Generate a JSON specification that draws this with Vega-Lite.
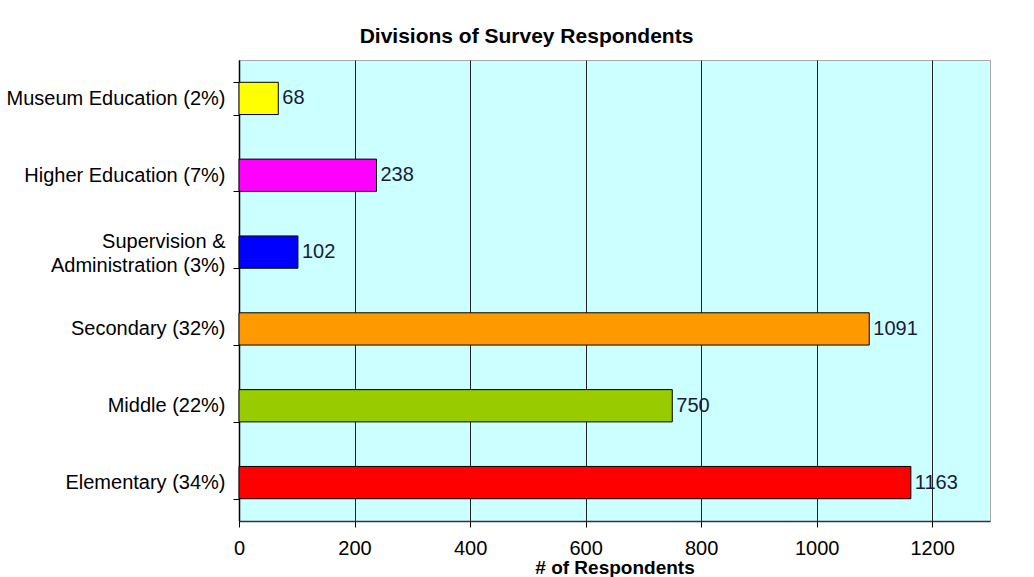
{
  "$schema": "https://vega.github.io/schema/vega-lite/v6.json",
  "autosize": {"type": "none"},
  "padding": {"left": 239, "top": 60, "right": 44, "bottom": 56},
  "width": 751,
  "height": 461,
  "background": "white",
  "title": {
    "text": "Divisions of Survey Respondents",
    "font": "Liberation Sans",
    "fontSize": 21,
    "fontWeight": "bold",
    "color": "black",
    "anchor": "middle",
    "frame": "group",
    "dx": -88,
    "offset": 3
  },
  "config": {
    "view": {"fill": "#CCFFFF", "stroke": "#a8a8a8", "strokeWidth": 1},
    "font": "Liberation Sans"
  },
  "data": {
    "values": [
      {"division": "Museum Education (2%)", "respondents": 68, "color": "#FFFF00"},
      {"division": "Higher Education (7%)", "respondents": 238, "color": "#FF00FF"},
      {"division": "Supervision & Administration (3%)", "respondents": 102, "color": "#0000FF"},
      {"division": "Secondary (32%)", "respondents": 1091, "color": "#FF9900"},
      {"division": "Middle (22%)", "respondents": 750, "color": "#99CC00"},
      {"division": "Elementary (34%)", "respondents": 1163, "color": "#FF0000"}
    ]
  },
  "encoding": {
    "y": {
      "field": "division",
      "type": "nominal",
      "sort": null,
      "scale": {"paddingInner": 0.58, "paddingOuter": 0.29},
      "axis": {
        "title": null,
        "domainColor": "black",
        "domainWidth": 1.5,
        "tickColor": "black",
        "tickSize": 6,
        "tickBand": "extent",
        "labelFont": "Liberation Sans",
        "labelFontSize": 20,
        "labelColor": "black",
        "labelPadding": 8,
        "labelLineHeight": 24,
        "labelLimit": 300,
        "labelOffset": {"condition": {"test": "datum.value == 'Supervision & Administration (3%)'", "value": -11}, "value": 0},
        "labelExpr": "datum.value == 'Supervision & Administration (3%)' ? ['Supervision &', 'Administration (3%)'] : datum.label"
      }
    },
    "x": {
      "field": "respondents",
      "type": "quantitative",
      "scale": {"domain": [0, 1300], "nice": false},
      "axis": {
        "title": "# of Respondents",
        "titleFont": "Liberation Sans",
        "titleFontSize": 19,
        "titleFontWeight": "bold",
        "titleColor": "black",
        "titlePadding": 0,
        "values": [0, 200, 400, 600, 800, 1000, 1200],
        "format": "d",
        "grid": true,
        "gridColor": "#222222",
        "gridWidth": 1,
        "gridOpacity": 1,
        "domainColor": "#333333",
        "domainWidth": 1.5,
        "tickColor": "black",
        "tickSize": 6,
        "labelFont": "Liberation Sans",
        "labelFontSize": 20,
        "labelColor": "black",
        "labelPadding": 11,
        "labelFlush": false
      }
    }
  },
  "layer": [
    {
      "mark": {"type": "bar", "stroke": "black", "strokeWidth": 1},
      "encoding": {
        "color": {"field": "color", "type": "nominal", "scale": null, "legend": null}
      }
    },
    {
      "mark": {"type": "text", "align": "left", "baseline": "middle", "dx": 4, "fontSize": 20, "font": "Liberation Sans", "color": "#1a1a3a"},
      "encoding": {
        "text": {"field": "respondents", "type": "quantitative"}
      }
    }
  ]
}
